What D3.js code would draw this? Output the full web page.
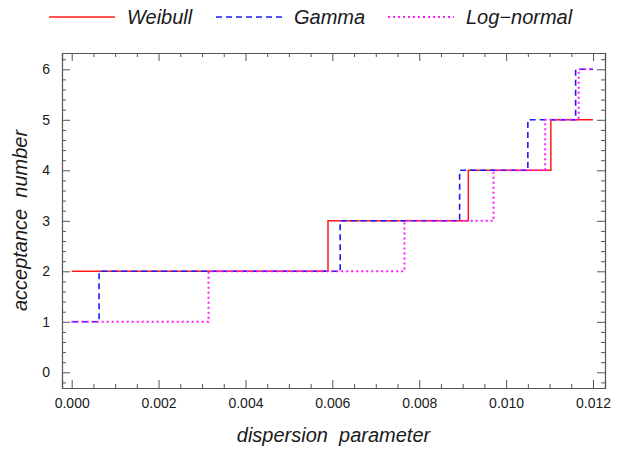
<!DOCTYPE html>
<html>
<head>
<meta charset="utf-8">
<script src="https://cdn.jsdelivr.net/npm/d3@7"></script>
<style>
  body { margin: 0; background: #fff; }
  text { font-family: "Liberation Sans", Arial, sans-serif; fill: #1a1a1a; }
  .domain { stroke: #555; }
  .tick line { stroke: #555; }
</style>
</head>
<body>
<div class="canvas"></div>
<script>
// step data
const seriesNames = ['Weibull', 'Gamma', 'Log\u2212normal'];
const weibullX = [0, 0.0059, 0.00913, 0.01103, 0.0120];
const weibullY = [2, 3, 4, 5, 5];
const gammaX = [0, 0.00063, 0.00618, 0.00893, 0.0105, 0.0116, 0.0120];
const gammaY = [1, 2, 3, 4, 5, 6, 6];
const lognormX = [0, 0.00315, 0.00766, 0.00971, 0.0109, 0.01167, 0.0120];
const lognormY = [1, 2, 3, 4, 5, 6, 6];
const xTicks = [0, 0.002, 0.004, 0.006, 0.008, 0.010, 0.012];
const yTicks = [0, 1, 2, 3, 4, 5, 6];

const dims = { width: 630, height: 449 };
const plot = { left: 62, right: 605, top: 53, bottom: 388 };

const svg = d3.select('.canvas')
    .append('svg')
    .attr('width', dims.width)
    .attr('height', dims.height)
;

const x = d3.scaleLinear().domain([-0.000223, 0.012276]).range([plot.left, plot.right]);
const y = d3.scaleLinear().domain([-0.311, 6.323]).range([plot.bottom, plot.top]);

const xMinor = d3.range(0, 0.01226, 0.0005).filter(v => Math.round(v * 10000) % 20 !== 0);
const yMinor = d3.range(-0.2, 6.3, 0.2).filter(v => Math.abs(v - Math.round(v)) > 0.01);

// axes, ticks point inward on all four sides
const addAxis = (axis, tx, ty, cls) => svg.append('g')
    .attr('class', cls)
    .attr('transform', `translate(${tx}, ${ty})`)
    .call(axis)
;

addAxis(d3.axisBottom(x).tickValues(xMinor).tickSize(-4).tickFormat(''), 0, plot.bottom, 'minor');
addAxis(d3.axisTop(x).tickValues(xMinor).tickSize(-4).tickFormat(''), 0, plot.top, 'minor');
addAxis(d3.axisLeft(y).tickValues(yMinor).tickSize(-4).tickFormat(''), plot.left, 0, 'minor');
addAxis(d3.axisRight(y).tickValues(yMinor).tickSize(-4).tickFormat(''), plot.right, 0, 'minor');

const xAxis = addAxis(d3.axisBottom(x).tickValues(xTicks).tickSize(-8).tickPadding(12).tickFormat(d3.format('.3f')), 0, plot.bottom, 'major');
addAxis(d3.axisTop(x).tickValues(xTicks).tickSize(-8).tickFormat(''), 0, plot.top, 'major');
const yAxis = addAxis(d3.axisLeft(y).tickValues(yTicks).tickSize(-8).tickPadding(12).tickFormat(d3.format('d')), plot.left, 0, 'major');
addAxis(d3.axisRight(y).tickValues(yTicks).tickSize(-8).tickFormat(''), plot.right, 0, 'major');

svg.selectAll('.minor .domain').remove();
svg.selectAll('.major .domain').attr('stroke-width', 1.2);
xAxis.selectAll('text').attr('font-size', 14).attr('dy', '0.6em');
yAxis.selectAll('text').attr('font-size', 14);

// step lines
const line = d3.line()
    .x(d => x(d[0]))
    .y(d => y(d[1]))
    .curve(d3.curveStepAfter)
;

const series = [
    { name: seriesNames[0], xs: weibullX, ys: weibullY, colour: '#ff1a1a', dash: null, w: 1.5 },
    { name: seriesNames[1], xs: gammaX, ys: gammaY, colour: '#1a1aff', dash: '6,4', w: 1.6 },
    { name: seriesNames[2], xs: lognormX, ys: lognormY, colour: '#ff1aff', dash: '2,3', w: 2 }
];

svg.append('g').selectAll('path')
    .data(series)
    .enter()
    .append('path')
    .attr('d', s => line(s.xs.map((v, i) => [v, s.ys[i]])))
    .attr('fill', 'none')
    .attr('stroke', s => s.colour)
    .attr('stroke-width', s => s.w)
    .attr('stroke-dasharray', s => s.dash)
;

// legend
const legendX = [49, 216, 388];
const legend = svg.append('g').selectAll('g')
    .data(series)
    .enter()
    .append('g')
    .attr('transform', (s, i) => `translate(${legendX[i]}, 17)`)
;
legend.append('line')
    .attr('x1', 0).attr('x2', 66)
    .attr('stroke', s => s.colour)
    .attr('stroke-width', s => s.w)
    .attr('stroke-dasharray', s => s.dash)
;
legend.append('text')
    .attr('x', 78).attr('y', 7)
    .attr('font-size', 20)
    .attr('font-style', 'italic')
    .text(s => s.name)
;

// axis titles
svg.append('text')
    .attr('x', (plot.left + plot.right) / 2)
    .attr('y', 442)
    .attr('text-anchor', 'middle')
    .attr('font-size', 20)
    .attr('font-style', 'italic')
    .style('white-space', 'pre')
    .text('dispersion  parameter')
;

svg.append('text')
    .attr('transform', `translate(27, ${(plot.top + plot.bottom) / 2}) rotate(-90)`)
    .attr('text-anchor', 'middle')
    .attr('font-size', 20)
    .attr('font-style', 'italic')
    .style('white-space', 'pre')
    .text('acceptance  number')
;
</script>
</body>
</html>
